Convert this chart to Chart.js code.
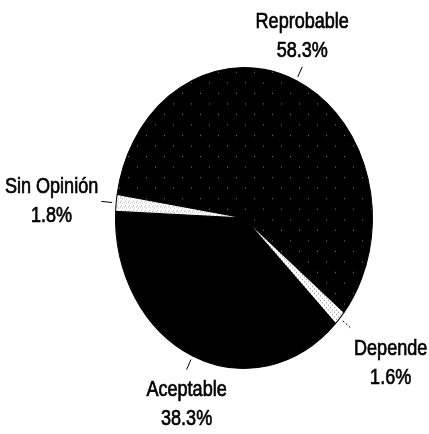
<!DOCTYPE html>
<html>
<head>
<meta charset="utf-8">
<script src="https://cdn.jsdelivr.net/npm/chart.js@4.4.1/dist/chart.umd.min.js"></script>
<style>
    body { margin: 0; background: #fff; }
    #wrap { width: 429px; height: 434px; }
</style>
</head>
<body>
<div id="wrap"><canvas id="pie" width="429" height="434"></canvas></div>
<script>
// --- data ---
const categories = ['Reprobable', 'Depende', 'Aceptable', 'Sin Opinión'];
const percentages = [58.3, 1.6, 38.3, 1.8];

const FONT = "'Liberation Sans', Arial, sans-serif";
const NARROW = 0.82;         // squeeze Liberation Sans to look like Arial Narrow
const Y_STRETCH = 302 / 258; // the scanned pie is a bit taller than wide

// small stipple tiles to mimic the print shading
function makePattern(bg, dot, points, size) {
    const c = document.createElement('canvas');
    c.width = size; c.height = size;
    const g = c.getContext('2d');
    g.fillStyle = bg;
    g.fillRect(0, 0, size, size);
    g.fillStyle = dot;
    points.forEach(p => g.fillRect(p[0], p[1], 1, 1));
    return g.createPattern(c, 'repeat');
}

const sliceColors = [
    makePattern('#000', '#6e6e6e', [[2, 3], [11, 12]], 18),
    makePattern('#fff', '#9a9a9a', [[0, 0], [2, 2]], 4),
    '#000',
    makePattern('#fff', '#bdbdbd', [[0, 0], [2, 1], [1, 3]], 4)
];

// squash the arcs into the ellipse of the reference
const ellipsePlugin = {
    id: 'ellipse',
    beforeDatasetsDraw(chart) {
        const arc = chart.getDatasetMeta(0).data[0];
        const ctx = chart.ctx;
        ctx.save();
        ctx.translate(arc.x, arc.y);
        ctx.scale(1, Y_STRETCH);
        ctx.translate(-arc.x, -arc.y);
    },
    afterDatasetsDraw(chart) {
        chart.ctx.restore();
    }
};

// outside labels with short leader lines
const labelPlugin = {
    id: 'outsideLabels',
    afterDraw(chart) {
        const ctx = chart.ctx;
        const meta = chart.getDatasetMeta(0);
        ctx.save();
        ctx.font = '22px ' + FONT;
        ctx.fillStyle = '#000';
        ctx.strokeStyle = '#000';
        const lineH = 29;
        meta.data.forEach((arc, i) => {
            const p = arc.getProps(['x', 'y', 'startAngle', 'endAngle', 'outerRadius'], true);
            const a = (p.startAngle + p.endAngle) / 2;
            const cos = Math.cos(a), sin = Math.sin(a);
            const rx = p.outerRadius, ry = p.outerRadius * Y_STRETCH;
            const pt = d => [p.x + (rx + d) * cos, p.y + (ry + d) * sin];
            const s = pt(4), e = pt(15);

            ctx.lineWidth = 1;
            ctx.setLineDash(categories[i] === 'Depende' ? [2, 2] : []);
            ctx.beginPath();
            ctx.moveTo(s[0], s[1]);
            ctx.lineTo(e[0], e[1]);
            ctx.stroke();
            ctx.setLineDash([]);

            const lines = [categories[i], percentages[i].toFixed(1) + '%'];
            const w = Math.max(...lines.map(t => ctx.measureText(t).width)) * NARROW;
            const h = lineH * lines.length;
            let cx = e[0], top = e[1] - h / 2;
            if (cos > 0.5) cx = e[0] + 3 + w / 2;
            else if (cos < -0.5) cx = e[0] - 3 - w / 2;
            if (sin > 0.3) top = e[1] + 6;
            else if (sin < -0.3) top = e[1] - h - 1;

            lines.forEach((t, k) => {
                ctx.save();
                ctx.translate(cx, top + lineH * k + lineH / 2);
                ctx.scale(NARROW, 1);
                ctx.textAlign = 'center';
                ctx.textBaseline = 'middle';
                ctx.lineWidth = 0.7;
                ctx.fillText(t, 0, 0);
                ctx.strokeText(t, 0, 0);
                ctx.restore();
            });
        });
        ctx.restore();
    }
};

new Chart(document.getElementById('pie'), {
    type: 'pie',
    data: {
        labels: categories,
        datasets: [{
            data: percentages,
            backgroundColor: sliceColors,
            borderColor: '#000',
            borderWidth: 1,
            clip: false
        }]
    },
    options: {
        responsive: false,
        devicePixelRatio: 1,
        animation: false,
        rotation: -81,
        layout: { padding: { left: 115, right: 56, top: 89, bottom: 87 } },
        plugins: {
            legend: { display: false },
            tooltip: { enabled: false }
        }
    },
    plugins: [ellipsePlugin, labelPlugin]
});
</script>
</body>
</html>
